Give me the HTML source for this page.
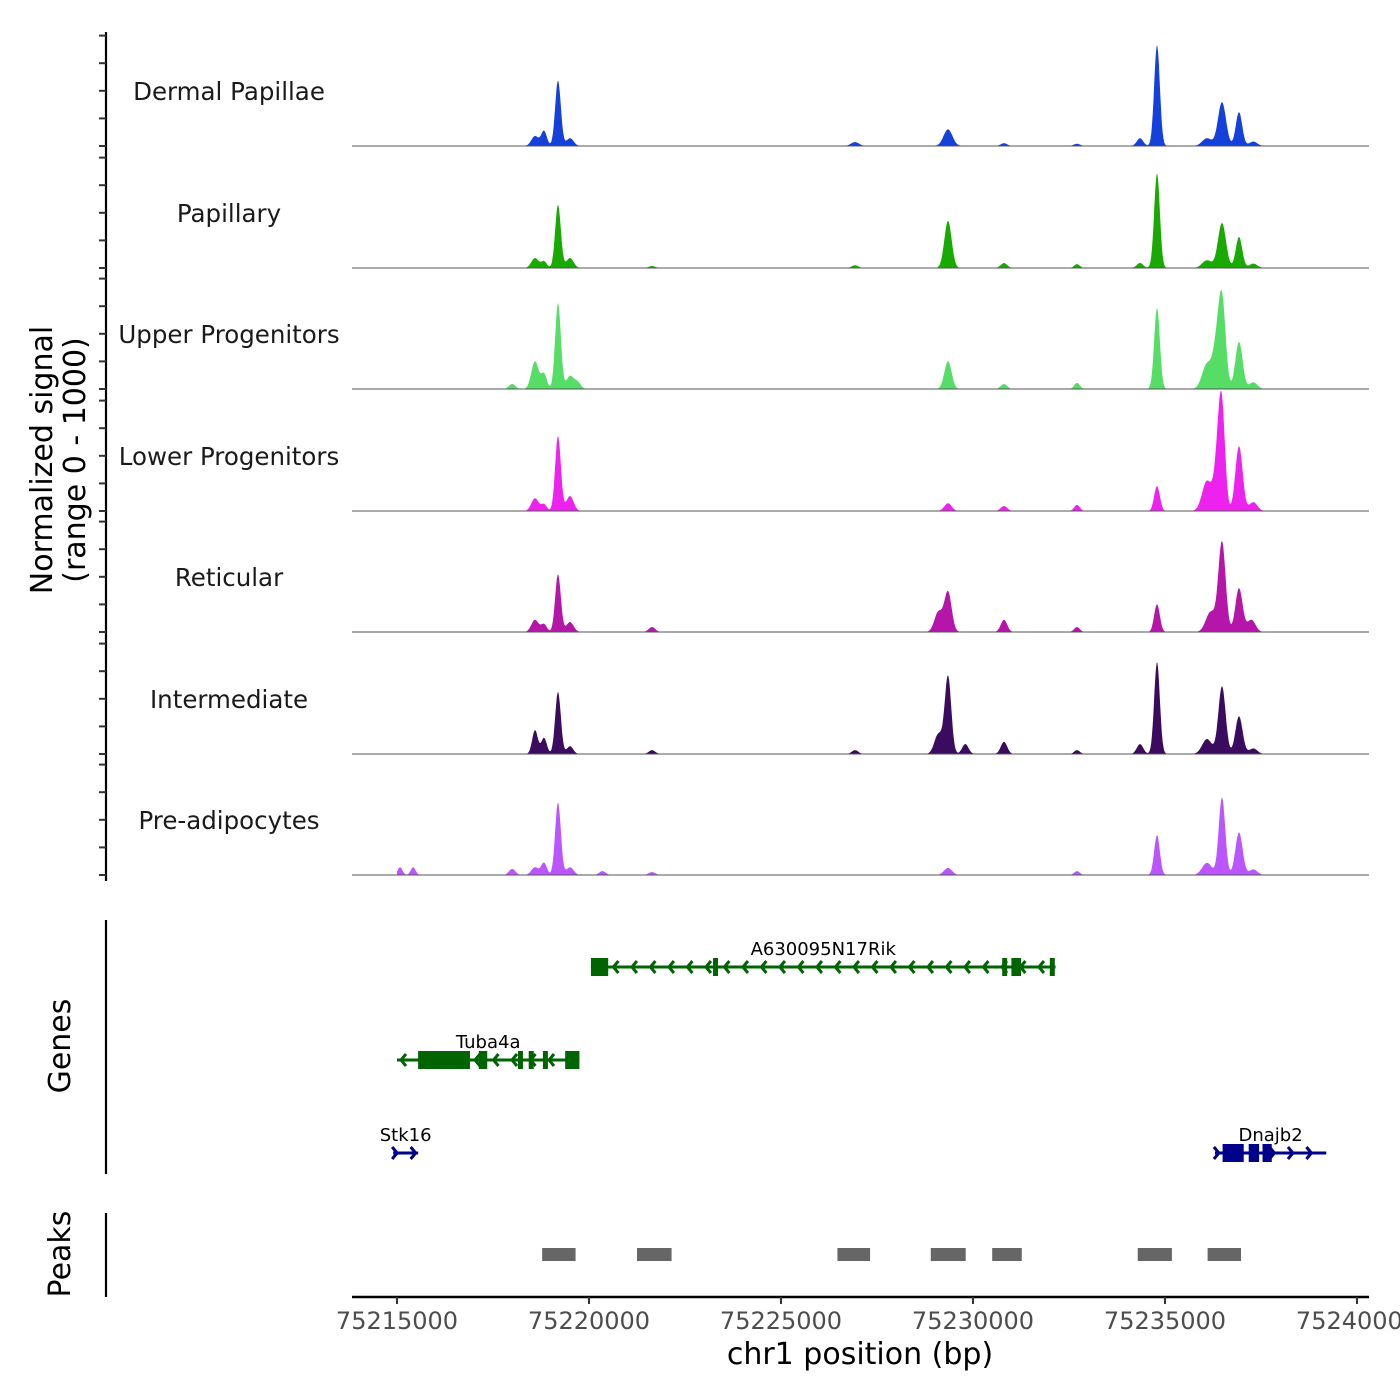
<!DOCTYPE html>
<html><head><meta charset="utf-8"><style>
html,body{margin:0;padding:0;background:#fff;}
svg{display:block;font-family:"DejaVu Sans","Liberation Sans",sans-serif;}
</style></head><body>
<svg id="chart" width="1400" height="1400" viewBox="0 0 1400 1400" xmlns="http://www.w3.org/2000/svg">
<rect width="1400" height="1400" fill="#fff"/>
<g id="tracks"></g>
<g id="yaxis"></g>
<g id="genes"></g>
<g id="peaks"></g>
<g id="xaxis"></g>
<text transform="translate(52,460) rotate(-90)" text-anchor="middle" font-size="30" fill="#000">Normalized signal</text>
<text transform="translate(85,460) rotate(-90)" text-anchor="middle" font-size="30" fill="#000">(range 0 - 1000)</text>
<text transform="translate(70,1046) rotate(-90)" text-anchor="middle" font-size="30" fill="#000">Genes</text>
<text transform="translate(70,1254) rotate(-90)" text-anchor="middle" font-size="30" fill="#000">Peaks</text>
<text x="860" y="1364" text-anchor="middle" font-size="30" fill="#000">chr1 position (bp)</text>
</svg>
<script>
const trackNames = ["Dermal Papillae","Papillary","Upper Progenitors","Lower Progenitors","Reticular","Intermediate","Pre-adipocytes"];
const trackColors = ["#1440dc","#18aa00","#55dd66","#ee22ee","#b515a8","#3a0b5e","#bb55ff"];
// peaks per track: [position bp, signal (0-1000), width bp]
const peaksDP = [[75218594,90,90],[75218828,135,70],[75219193,590,70],[75219505,70,90],[75226927,35,100],[75229349,150,110],[75230807,25,80],[75232708,20,80],[75234349,70,80],[75234792,910,70],[75236094,70,120],[75236484,395,100],[75236927,305,80],[75237300,40,100]];
const peaksPap = [[75218594,90,90],[75218828,60,70],[75219193,570,70],[75219505,90,90],[75221641,18,80],[75226927,25,80],[75229349,425,90],[75230807,45,80],[75232708,35,70],[75234349,45,80],[75234792,855,70],[75236094,70,120],[75236484,405,100],[75236927,280,80],[75237300,40,100]];
const peaksUp = [[75218000,45,80],[75218594,250,90],[75218828,135,70],[75219193,775,70],[75219505,115,90],[75219700,60,80],[75229349,250,90],[75230807,45,80],[75232708,55,70],[75234792,730,70],[75236094,225,120],[75236330,300,90],[75236484,800,90],[75236927,425,90],[75237300,60,100]];
const peaksLow = [[75218594,115,90],[75218828,60,70],[75219193,675,70],[75219505,135,90],[75229349,70,90],[75230807,45,80],[75232708,55,70],[75234792,225,70],[75236094,270,120],[75236380,450,90],[75236484,800,80],[75236927,585,90],[75237300,80,100]];
const peaksRet = [[75218594,110,90],[75218828,70,70],[75219193,520,70],[75219505,90,90],[75221641,45,80],[75229100,180,100],[75229349,360,90],[75230807,110,80],[75232708,45,70],[75234792,250,70],[75236190,180,120],[75236484,810,90],[75236927,395,90],[75237250,110,100]];
const peaksInt = [[75218594,215,70],[75218828,145,70],[75219193,560,70],[75219505,70,80],[75221641,35,80],[75226927,35,80],[75229100,180,100],[75229349,700,80],[75229800,90,80],[75230807,110,80],[75232708,35,70],[75234349,90,80],[75234792,830,70],[75236094,135,120],[75236484,610,90],[75236927,340,90],[75237300,50,100]];
const peaksPre = [[75215080,70,60],[75215420,70,60],[75218000,55,80],[75218594,70,90],[75218828,110,70],[75219193,655,70],[75219505,70,90],[75220350,35,80],[75221641,27,80],[75229349,63,100],[75232708,35,70],[75234792,360,70],[75236094,110,120],[75236484,700,80],[75236927,385,90],[75237300,50,100]];
const trackPeaks = [peaksDP,peaksPap,peaksUp,peaksLow,peaksRet,peaksInt,peaksPre];
const xTicks = [75215000,75220000,75225000,75230000,75235000,75240000];
const geneNames = ["A630095N17Rik","Tuba4a","Stk16","Dnajb2"];
const geneStrands = [-1,-1,1,1];
const geneRanges = [[75220050,75232150],[75215000,75219750],[75214900,75215550],[75236300,75239200]];
const geneExons = [[[75220050,75220500],[75223230,75223340],[75230760,75230880],[75231000,75231250],[75232000,75232110]],[[75215550,75216900],[75217130,75217350],[75218150,75218230],[75218430,75218500],[75218800,75218880],[75219380,75219750]],[],[[75236500,75237050],[75237180,75237450],[75237540,75237780]]];
const geneRows = [0,1,2,2];
const geneColors = ["#006400","#006400","#00008b","#00008b"];
const peakRegions = [[75218780,75219650],[75221250,75222150],[75226470,75227320],[75228900,75229810],[75230500,75231270],[75234290,75235180],[75236110,75236980]];

const NS="http://www.w3.org/2000/svg";
function mk(tag,attrs,parent){const e=document.createElementNS(NS,tag);for(const k in attrs)e.setAttribute(k,attrs[k]);parent.appendChild(e);return e;}
const X0=397, PXBP=192/5000;
function xs(bp){return X0+(bp-75215000)*PXBP;}
const baselines=[146,268,389,511,632,754,875];
const HPX=111/1000;
const tracksG=document.getElementById('tracks');
const yG=document.getElementById('yaxis');
mk('line',{x1:106,y1:32,x2:106,y2:881,stroke:'#000','stroke-width':2.2},yG);
trackNames.forEach((name,i)=>{
  const b=baselines[i];
  const g=mk('g',{},tracksG);
  
  
  const pk=trackPeaks[i];
  let d='M'+xs(75215000).toFixed(1)+','+b;
  for(let bp=75215000;bp<=75237800;bp+=20){
    let v=0;
    for(const p of pk){const z=(bp-p[0])/(p[2]*1.05);if(Math.abs(z)<5){v+=p[1]*Math.exp(-z*z/2);}}
    d+=' L'+xs(bp).toFixed(1)+','+(b-v*HPX).toFixed(1);
  }
  d+=' L'+xs(75237800).toFixed(1)+','+b+' Z';
  const a=mk('path',{d:d,fill:trackColors[i],stroke:'none'},g);
  
  
  mk('line',{x1:352,y1:b,x2:1369,y2:b,stroke:'#555','stroke-width':1},g);
  const t=mk('text',{x:229,y:b-46,'text-anchor':'middle','font-size':24.5,fill:'#1a1a1a'},g);
  t.textContent=name;
  
  
  for(let k=0;k<5;k++){const y=b-k*27.6;mk('line',{x1:99,y1:y,x2:106,y2:y,stroke:'#333','stroke-width':2},yG);}
});
const gG=document.getElementById('genes');
mk('line',{x1:106,y1:920,x2:106,y2:1174,stroke:'#000','stroke-width':2.2},gG);
const rowY=[967,1060,1153];
geneNames.forEach((n,i)=>{
  const g=mk('g',{},gG);
  
  
  const y=rowY[geneRows[i]],c=geneColors[i];
  const x1=xs(geneRanges[i][0]),x2=xs(geneRanges[i][1]);
  mk('line',{x1:x1,y1:y,x2:x2,y2:y,stroke:c,'stroke-width':3},g);
  const s=geneStrands[i];
  for(let x=x1+4;x<=x2;x+=18.5){
    mk('polyline',{points:(x-5*s)+','+(y-6)+' '+x+','+y+' '+(x-5*s)+','+(y+6),fill:'none',stroke:c,'stroke-width':3},g);
  }
  geneExons[i].forEach(e=>{mk('rect',{x:xs(e[0]),y:y-9,width:Math.max(5,xs(e[1])-xs(e[0])),height:18,fill:c},g);});
  const t=mk('text',{x:(x1+x2)/2,y:y-12,'text-anchor':'middle','font-size':18,fill:'#000'},g);
  t.textContent=n;
  
  
});
const pG=document.getElementById('peaks');
mk('line',{x1:106,y1:1213,x2:106,y2:1297,stroke:'#000','stroke-width':2.2},pG);
peakRegions.forEach(r=>{
  const e=mk('rect',{x:xs(r[0]),y:1248,width:xs(r[1])-xs(r[0]),height:13,fill:'#666'},pG);
  
  
});
const xG=document.getElementById('xaxis');
mk('line',{x1:352,y1:1297,x2:1369,y2:1297,stroke:'#000','stroke-width':2.5},xG);
xTicks.forEach(v=>{
  const x=xs(v);
  mk('line',{x1:x,y1:1297,x2:x,y2:1304,stroke:'#333','stroke-width':2},xG);
  const t=mk('text',{x:x,y:1329,'text-anchor':'middle','font-size':24,fill:'#4d4d4d'},xG);
  t.textContent=String(v);
  
  
});
</script>
</body></html>
